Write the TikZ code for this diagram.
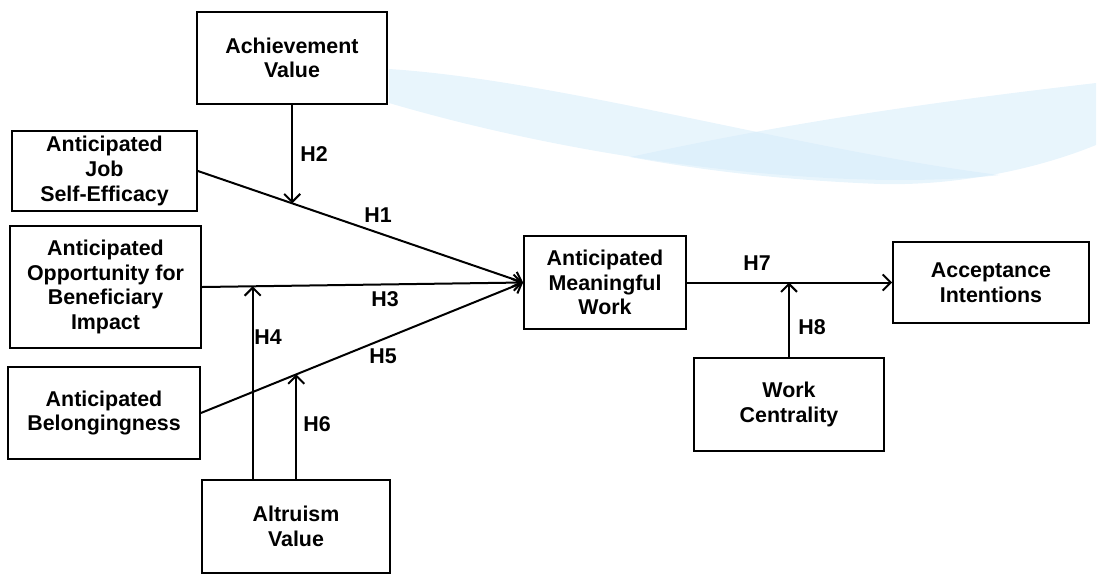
\documentclass[tikz,border=0pt]{standalone}
\usepackage{fontspec}
\setmainfont{Liberation Sans}
\usetikzlibrary{arrows.meta,calc}
\definecolor{swooshblue}{RGB}{214,236,250}

\begin{document}
\begin{tikzpicture}[
    x=0.5pt, y=-0.5pt,
    box/.style={draw, line width=0.9pt, align=center, inner sep=0pt, font=\fontsize{10.7}{12.3}\selectfont\bfseries, minimum height=46pt},
    hlab/.style={font=\fontsize{10.7}{12.3}\selectfont\bfseries, inner sep=0pt},
    hyp/.style={->, >={Straight Barb[length=4pt,width=8pt]}, line width=1pt},
    swoosh/.style={fill=swooshblue, fill opacity=0.55, draw=none}]
    \useasboundingbox (0,0) rectangle (1102,574);
    % background ribbons
    \fill[swoosh] (389,69) .. controls (560,80) and (800,150) .. (1000,175)
        .. controls (850,192) and (600,165) .. (389,103) -- cycle;
    \fill[swoosh] (630,157) .. controls (800,120) and (950,100) .. (1096,83) -- (1096,145)
        .. controls (1040,168) and (960,186) .. (880,184) .. controls (780,180) and (700,170) .. cycle;
    % constructs
    \node[box, minimum width=95pt] (ach) at (292,58) {Achievement\\Value};
    \node[box, minimum width=92.5pt, minimum height=40pt] (job) at (104.5,171) {Anticipated\\Job\\Self-Efficacy};
    \node[box, minimum width=95.5pt, minimum height=61pt] (opp) at (105.5,287) {Anticipated\\Opportunity for\\Beneficiary\\Impact};
    \node[box, minimum width=96pt] (bel) at (104,413) {Anticipated\\Belongingness};
    \node[box, minimum width=94pt, minimum height=46.5pt] (alt) at (296,526.5) {Altruism\\Value};
    \node[box, minimum width=81pt, minimum height=46.5pt] (amw) at (605,282.5) {Anticipated\\Meaningful\\Work};
    \node[box, minimum width=98pt, minimum height=40.5pt] (acc) at (991,282.5) {Acceptance\\Intentions};
    \node[box, minimum width=95pt, minimum height=46.5pt] (wc) at (789,404.5) {Work\\Centrality};
    % main paths
    \draw[hyp] (job.east) -- (amw.west);
    \draw[hyp] (opp.east) -- (amw.west);
    \draw[hyp] (bel.east) -- (amw.west);
    \draw[hyp] (amw.east) -- (acc.west);
    % moderators
    \coordinate (m2) at ($(job.east)!0.29!(amw.west)$);
    \coordinate (m4) at ($(opp.east)!0.158!(amw.west)$);
    \coordinate (m6) at ($(bel.east)!0.296!(amw.west)$);
    \draw[hyp] (ach.south -| m2) -- (m2);
    \draw[hyp] (alt.north -| m4) -- (m4);
    \draw[hyp] (alt.north -| m6) -- (m6);
    \draw[hyp] (wc.north) -- (wc.north |- amw.east);
    % hypothesis labels
    \node[hlab] (h1) at (378,215) {H1};
    \node[hlab] (h2) at (314,154) {H2};
    \node[hlab] (h3) at (385,299) {H3};
    \node[hlab] (h4) at (268,337) {H4};
    \node[hlab] (h5) at (383,356) {H5};
    \node[hlab] (h6) at (317,424) {H6};
    \node[hlab] (h7) at (757,263) {H7};
    \node[hlab] (h8) at (812,327) {H8};
\end{tikzpicture}
\end{document}
